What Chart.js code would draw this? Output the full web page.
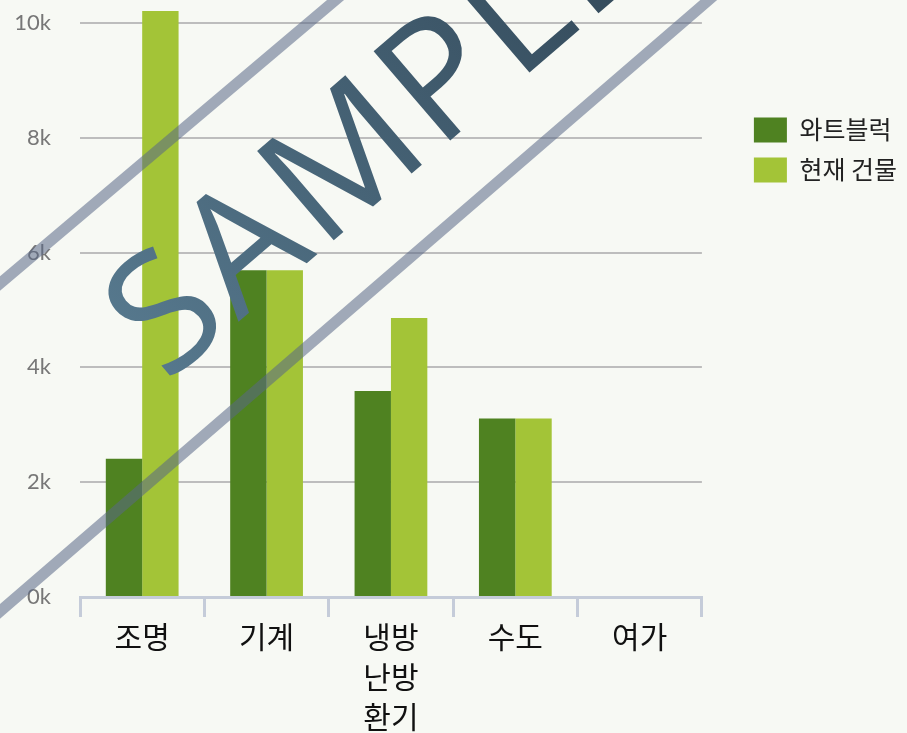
<!DOCTYPE html>
<html lang="ko">
<head>
<meta charset="utf-8">
<script src="https://cdn.jsdelivr.net/npm/chart.js@4.4.1/dist/chart.umd.min.js"></script>
<style>
  html, body { margin: 0; padding: 0; background: #f7f9f4; }
  #wrap { position: relative; width: 907px; height: 733px; }
</style>
</head>
<body>
<div id="wrap"><canvas id="chart"></canvas></div>
<script>
// categories and values
const categories = ['조명', '기계', ['냉방', '난방', '환기'], '수도', '여가'];
const wattblockValues = [2410, 5690, 3590, 3110, 0];
const currentBuildingValues = [10210, 5690, 4860, 3110, 0];
const seriesLabels = ['와트블럭', '현재 건물'];
const yTicks = [0, 2000, 4000, 6000, 8000, 10000];

const KR = "'Noto Sans CJK KR', 'Noto Sans', sans-serif";

// the "SAMPLE" stamp laid over the chart
const watermark = {
  id: 'watermark',
  afterDraw(chart) {
    const ctx = chart.ctx;
    ctx.save();
    ctx.translate(166, 384);
    ctx.rotate(-40.6 * Math.PI / 180);
    const grad = ctx.createLinearGradient(0, 0, 700, 0);
    grad.addColorStop(0, '#56788d');
    grad.addColorStop(1, '#2f4454');
    ctx.fillStyle = grad;
    ctx.letterSpacing = '5px';
    ctx.font = "500 165px 'Open Sans', sans-serif";
    ctx.textAlign = 'left';
    ctx.textBaseline = 'alphabetic';
    ctx.fillText('SAMPLE', 0, 0);
    ctx.restore();

    ctx.save();
    ctx.strokeStyle = 'rgba(90,104,135,0.55)';
    ctx.lineWidth = 11;
    ctx.beginPath();
    ctx.moveTo(-10, 292);
    ctx.lineTo(345, -8);
    ctx.moveTo(-10, 620);
    ctx.lineTo(718, -8);
    ctx.stroke();
    ctx.restore();
  }
};

new Chart(document.getElementById('chart'), {
  type: 'bar',
  data: {
    labels: categories,
    datasets: [
      {
        label: seriesLabels[0],
        data: wattblockValues,
        backgroundColor: '#4f8221',
        barPercentage: 1,
        categoryPercentage: 0.585,
      },
      {
        label: seriesLabels[1],
        data: currentBuildingValues,
        backgroundColor: '#a3c437',
        barPercentage: 1,
        categoryPercentage: 0.585,
      },
    ],
  },
  options: {
    animation: false,
    responsive: true,
    maintainAspectRatio: false,
    layout: { padding: 0 },
    scales: {
      x: {
        grid: {
          drawOnChartArea: false,
          drawTicks: true,
          tickLength: 20,
          color: '#c5ccd9',
          lineWidth: 3,
          offset: true,
        },
        border: { display: true, color: '#c5ccd9', width: 3 },
        ticks: {
          color: '#111',
          padding: 0,
          autoSkip: false,
          maxRotation: 0,
          font: { family: KR, size: 30, lineHeight: 1.33 },
        },
        afterFit: s => {
          s.height = 136;
          s.paddingLeft = 0;
          s.paddingRight = 0;
        },
      },
      y: {
        min: 0,
        max: 10400,
        afterBuildTicks: s => {
          s.ticks = yTicks.map(v => ({ value: v }));
        },
        grid: { color: '#bdbdbd', lineWidth: 2, drawTicks: false },
        border: { display: false },
        ticks: {
          color: '#777',
          padding: 29,
          font: { family: 'Lato', size: 22 },
          callback: v => (v / 1000) + 'k',
        },
        afterFit: s => {
          s.width = 80;
          s.paddingTop = 0;
          s.paddingBottom = 0;
        },
      },
      // empty strip between plot and legend
      gap: {
        type: 'linear',
        position: 'right',
        grid: { display: false },
        border: { display: false },
        ticks: { display: false },
        afterFit: s => {
          s.width = 37;
          s.paddingTop = 0;
          s.paddingBottom = 0;
        },
      },
    },
    plugins: {
      legend: {
        position: 'right',
        align: 'start',
        maxWidth: 220,
        title: { display: true, text: '', padding: { top: 88, bottom: 0 }, font: { size: 12 } },
        labels: {
          boxWidth: 33,
          boxHeight: 25,
          padding: 15,
          color: '#222',
          font: { family: KR, size: 25 },
        },
      },
      tooltip: { enabled: false },
    },
  },
  plugins: [watermark],
});
</script>
</body>
</html>
